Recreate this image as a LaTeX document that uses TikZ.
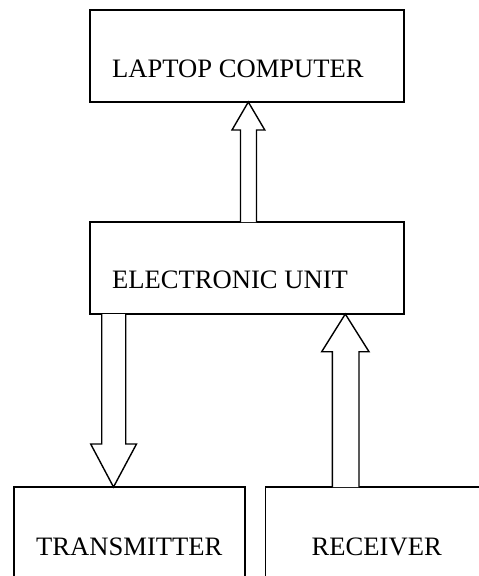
\documentclass[tikz,border=0pt]{standalone}
\usepackage{fontspec}
\setmainfont{Liberation Serif}
\begin{document}
\begin{tikzpicture}[x=1pt,y=-1pt,
  box/.style={draw=black,line width=1.5pt,rectangle,inner sep=0pt},
  lbl/.style={anchor=base west,inner sep=0pt,font=\fontsize{26.6}{30}\selectfont},
  blockarrow/.style={draw=black,line width=1.4pt,fill=white,line join=miter}]
\clip (0,0) rectangle (479,576);
\fill[white] (0,0) rectangle (479,576);
% boxes
\node[box,minimum width=314pt,minimum height=92pt] (lap) at (247,56) {};
\node[box,minimum width=314pt,minimum height=92pt] (eu) at (247,268) {};
\node[box,minimum width=231pt,minimum height=140pt] (tx) at (129.5,557) {};
\node[box,minimum width=260pt,minimum height=140pt] (rx) at (395.7,557) {};
% labels
\node[lbl] (laptxt) at (112,77) {LAPTOP COMPUTER};
\node[lbl] (eutxt) at (112,288) {ELECTRONIC UNIT};
\node[lbl] (txtxt) at (36,555) {TRANSMITTER};
\node[lbl] (rxtxt) at (311.5,555) {RECEIVER};
% EU -> laptop
\draw[blockarrow] (240.5,222) -- (240.5,130) -- (232,130) -- (248.3,102) -- (264.8,130) -- (256.5,130) -- (256.5,222);
% EU -> transmitter
\draw[blockarrow] (101.7,314) -- (101.7,444) -- (90.7,444) -- (113.5,487) -- (136.5,444) -- (125.7,444) -- (125.7,314);
% receiver -> EU
\draw[blockarrow] (332.3,487) -- (332.3,351.7) -- (321.7,351.7) -- (345.3,314) -- (369,351.7) -- (359,351.7) -- (359,487);
\end{tikzpicture}
\end{document}
